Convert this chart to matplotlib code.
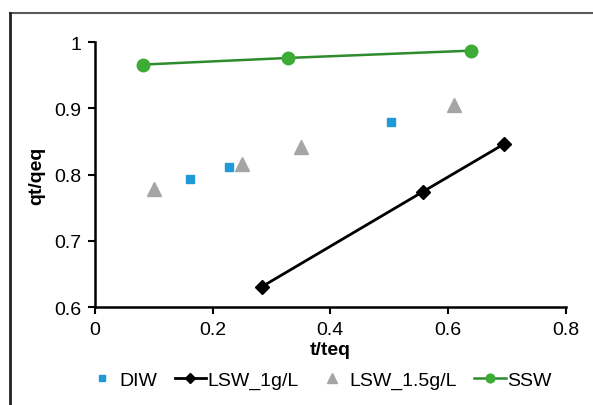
import matplotlib
matplotlib.use("Agg")
import matplotlib.pyplot as plt
from matplotlib.lines import Line2D

plt.rcParams["font.family"] = ["Liberation Sans", "DejaVu Sans"]

# Values
diw_x = [0.161, 0.228, 0.503]
diw_y = [0.793, 0.811, 0.879]

lsw1_x = [0.284, 0.557, 0.695]
lsw1_y = [0.631, 0.774, 0.846]

lsw15_x = [0.100, 0.250, 0.350, 0.610]
lsw15_y = [0.779, 0.816, 0.841, 0.905]

ssw_x = [0.082, 0.328, 0.639]
ssw_y = [0.966, 0.976, 0.987]

x_ticks = [0, 0.2, 0.4, 0.6, 0.8]
x_labels = ["0", "0.2", "0.4", "0.6", "0.8"]
y_ticks = [0.6, 0.7, 0.8, 0.9, 1.0]
y_labels = ["0.6", "0.7", "0.8", "0.9", "1"]

fig = plt.figure(figsize=(5.93, 4.06), dpi=100)
ax = fig.add_axes([0.160, 0.241, 0.794, 0.653])

ax.plot(diw_x, diw_y, linestyle="none", marker="s", markersize=5.5,
        color="#1f9ad6", label="DIW")
ax.plot(lsw1_x, lsw1_y, color="black", linewidth=2, marker="D",
        markersize=7, label="LSW_1g/L")
ax.plot(lsw15_x, lsw15_y, linestyle="none", marker="^", markersize=10,
        color="#a5a5a5", label="LSW_1.5g/L")
ax.plot(ssw_x, ssw_y, color="#2e8b2e", linewidth=1.8, marker="o",
        markersize=9, markerfacecolor="#3cac35", markeredgecolor="#3cac35",
        label="SSW")

ax.set_xlim(0, 0.8)
ax.set_ylim(0.6, 1.0)
ax.set_xticks(x_ticks)
ax.set_xticklabels(x_labels)
ax.set_yticks(y_ticks)
ax.set_yticklabels(y_labels)
ax.tick_params(labelsize=14, width=1.5, length=5, direction="out", pad=5)

for side in ("top", "right"):
    ax.spines[side].set_visible(False)
for side in ("left", "bottom"):
    ax.spines[side].set_linewidth(1.8)
    ax.spines[side].set_color("black")

ax.set_xlabel("t/teq", fontsize=14, fontweight="bold", labelpad=2)
ax.set_ylabel("qt/qeq", fontsize=14, fontweight="bold", labelpad=6)

fig.legend(loc="center", bbox_to_anchor=(0.538, 0.062), ncol=4, frameon=False,
           fontsize=14, handlelength=1.6, columnspacing=0.9, handletextpad=0.1,
           markerscale=0.7)

# outer chart border (only top and left edges visible)
fig.add_artist(Line2D([0.017, 1.0], [0.966, 0.966], color="#595959",
                      linewidth=1.5, transform=fig.transFigure))
fig.add_artist(Line2D([0.017, 0.017], [0.0, 0.966], color="#222222",
                      linewidth=2, transform=fig.transFigure))

fig.savefig("out.png", dpi=100)
